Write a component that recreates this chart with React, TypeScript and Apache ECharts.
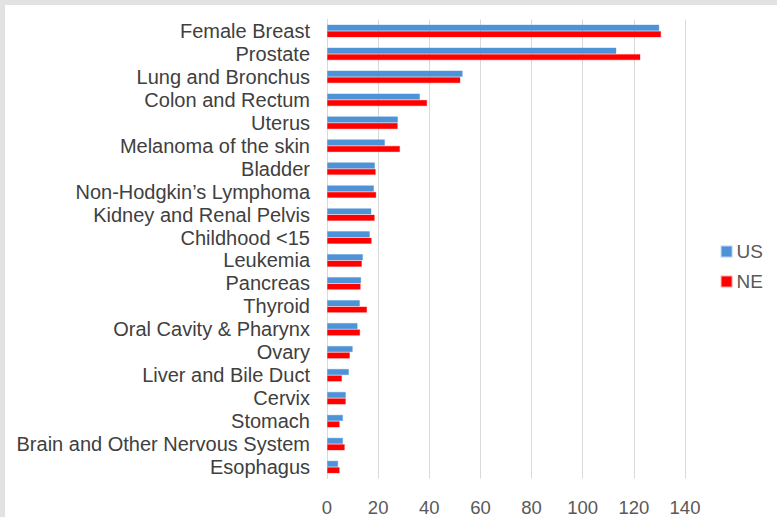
import React, { useEffect, useRef } from "react";
import * as echarts from "echarts";

const categories = [
  "Female Breast",
  "Prostate",
  "Lung and Bronchus",
  "Colon and Rectum",
  "Uterus",
  "Melanoma of the skin",
  "Bladder",
  "Non-Hodgkin’s Lymphoma",
  "Kidney and Renal Pelvis",
  "Childhood <15",
  "Leukemia",
  "Pancreas",
  "Thyroid",
  "Oral Cavity & Pharynx",
  "Ovary",
  "Liver and Bile Duct",
  "Cervix",
  "Stomach",
  "Brain and Other Nervous System",
  "Esophagus",
];

const usValues = [130, 113.2, 53.1, 36.4, 27.8, 22.7, 18.8, 18.4, 17.4, 16.8, 14.1, 13.4, 12.9, 12.0, 10.1, 8.6, 7.4, 6.3, 6.3, 4.4];
const neValues = [130.7, 122.6, 52.2, 39.2, 27.7, 28.6, 19.1, 19.3, 18.7, 17.5, 13.7, 13.2, 15.7, 13.0, 9.0, 5.9, 7.4, 5.0, 7.0, 5.0];

const xTicks = { min: 0, max: 140, interval: 20 };

export default function App() {
  const ref = useRef<HTMLDivElement>(null);
  useEffect(() => {
    if (!ref.current) return;
    const chart = echarts.init(ref.current, null, { renderer: "svg" });
    chart.setOption({
      animation: false,
      backgroundColor: "#ffffff",
      textStyle: { fontFamily: "Liberation Sans, Arial, sans-serif" },
      grid: { left: 322, right: 92, top: 14.5, bottom: 38.5, containLabel: false },
      legend: {
        orient: "vertical",
        right: 9,
        top: 232,
        itemWidth: 10,
        itemHeight: 10,
        itemGap: 11,
        icon: "rect",
        textStyle: { fontSize: 19, color: "#595959" },
        data: ["US", "NE"],
      },
      xAxis: {
        type: "value",
        min: xTicks.min,
        max: xTicks.max,
        interval: xTicks.interval,
        axisLine: { show: false },
        axisTick: { show: false },
        axisLabel: { fontSize: 18.5, color: "#595959", margin: 19 },
        splitLine: { show: true, lineStyle: { color: "#d9d9d9", width: 1 } },
      },
      yAxis: {
        type: "category",
        inverse: true,
        data: categories,
        axisLine: { show: true, lineStyle: { color: "#d9d9d9", width: 1 } },
        axisTick: { show: false },
        axisLabel: { fontSize: 20, color: "#404040", margin: 17, interval: 0 },
      },
      series: [
        {
          name: "US",
          type: "bar",
          data: usValues,
          barGap: "0%",
          barCategoryGap: "44%",
          itemStyle: { color: "#4e93d8", borderColor: "rgba(78,147,216,0.4)", borderWidth: 1 },
        },
        {
          name: "NE",
          type: "bar",
          data: neValues,
          barGap: "0%",
          barCategoryGap: "44%",
          itemStyle: { color: "#ff0000", borderColor: "rgba(255,0,0,0.35)", borderWidth: 1 },
        },
      ],
    });
    return () => chart.dispose();
  }, []);
  return (
    <div style={{ position: "fixed", left: 0, top: 0, width: 777, height: 517, background: "#e2e2e2" }}>
      <div ref={ref} style={{ position: "absolute", left: 5, top: 5, width: 772, height: 512 }} />
    </div>
  );
}
